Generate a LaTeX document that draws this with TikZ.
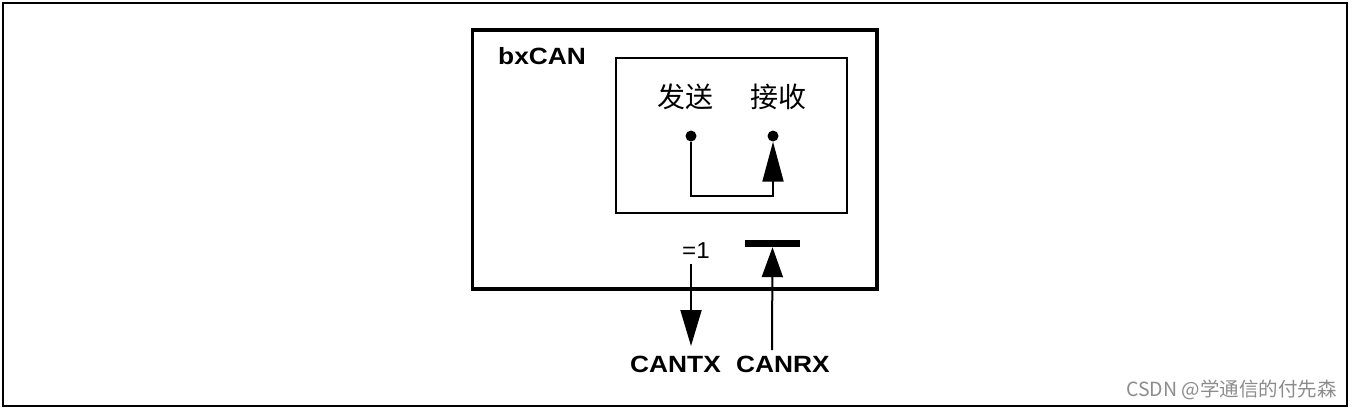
\documentclass[tikz,border=0pt]{standalone}
\usepackage{fontspec}
\setmainfont{Liberation Sans}
\newfontfamily\cjk{Noto Sans CJK SC}
\usetikzlibrary{arrows.meta}
\begin{document}
\begin{tikzpicture}[x=1pt,y=-1pt,
  lbl/.style={font=\fontsize{23.5}{23.5}\selectfont\bfseries, inner sep=0pt},
  cjklbl/.style={font=\cjk\fontsize{28}{28}\selectfont, inner sep=0pt},
  wire/.style={line width=2pt},
  dot/.style={circle, fill=black, inner sep=0pt, minimum size=11pt},
  wmtext/.style={text=black!45, font=\cjk\fontsize{19.5}{19.5}\selectfont, inner sep=0pt}]
\useasboundingbox (0,0) rectangle (1352,410);
\draw[line width=2pt] (3,3) rectangle (1347,406);
% bxCAN block
\node[draw, line width=3.5pt, minimum width=404.5pt, minimum height=259pt, inner sep=0pt] (can) at (674.75,159.5) {};
\node[lbl, anchor=west] (title) at (498,56) {\scalebox{1.12}[1]{bxCAN}};
% inner box
\node[draw, line width=2pt, minimum width=230.7pt, minimum height=155pt, inner sep=0pt] (core) at (731.7,135.5) {};
\node[cjklbl] (send) at (685,97) {发送};
\node[cjklbl] (recv) at (778,97) {接收};
\node[dot] (tx) at (691,136) {};
\node[dot] (rx) at (773,136) {};
\coordinate (bend) at (732,196);
\draw[wire, -{Triangle[length=40pt,width=21pt]}] (tx) |- (bend) -| (rx);
% CANTX
\node[font=\fontsize{23}{23}\selectfont, inner sep=0pt] (eq) at (696,251) {\scalebox{1.05}[1]{=1}};
\coordinate (txa) at (691,264);
\coordinate (txb) at (691,346);
\draw[wire, -{Triangle[length=36pt,width=21pt]}] (txa) -- (txb);
% CANRX
\node[fill=black, minimum width=55pt, minimum height=7pt, inner sep=0pt] (bar) at (772.5,243.5) {};
\coordinate (rxpin) at (772,350);
\draw[wire, -{Triangle[length=30pt,width=21pt]}] (rxpin) -- (bar.south);
\node[lbl] (cantx) at (675.5,364) {\scalebox{1.12}[1]{CANTX}};
\node[lbl] (canrx) at (783,364) {\scalebox{1.12}[1]{CANRX}};
% watermark
\node[wmtext, anchor=east] (wm) at (1337,390) {CSDN @学通信的付先森};
\end{tikzpicture}
\end{document}
